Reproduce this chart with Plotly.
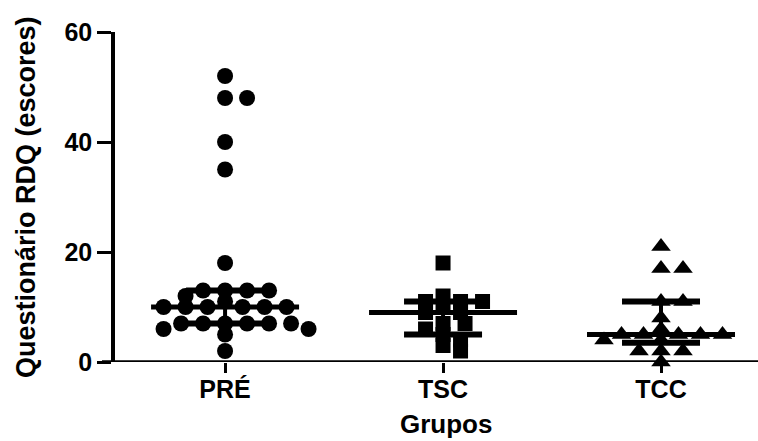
import numpy as np
import plotly.graph_objects as go

# ---- data ----
categories = ["PRÉ", "TSC", "TCC"]
pre_values = [52, 48, 48, 40, 35, 18, 13, 13, 13, 13, 12, 11, 10, 10, 10, 10, 10, 10,
              7, 7, 7, 7, 7, 7, 6, 6, 5, 2]
tsc_values = [18, 12, 11, 11, 11, 10, 9, 9, 7, 7, 6, 5, 4, 3, 2]
tcc_values = [21, 17, 17, 11, 11, 8, 6, 5, 5, 5, 5, 5, 4, 4, 2, 2, 2, 0]
y_ticks = [0, 20, 40, 60]

groups = [pre_values, tsc_values, tcc_values]
symbols = ["circle", "square", "triangle-up"]
msizes = [16, 15, 17]

# ---- layout geometry ----
W, H = 758, 441
ML, MR, MT, MB = 115, 0, 32, 79
XR = [-0.505, 2.445]
YR = [0, 60]
pw = W - ML - MR
ph = H - MT - MB
px_x = pw / (XR[1] - XR[0])
px_y = ph / (YR[1] - YR[0])


def swarm(vals, wx, wy):
    placed = []
    offs = []
    for v in vals:
        yv = v * px_y
        cands = [0.0]
        for k in range(1, 400):
            cands += [k * 0.5, -k * 0.5]
        chosen = 0.0
        for c in cands:
            if all(((c - a) / wx) ** 2 + ((yv - b) / wy) ** 2 >= 1 for a, b in placed):
                chosen = c
                break
        placed.append((chosen, yv))
        offs.append(chosen / px_x)
    return offs


fig = go.Figure()

for i, vals in enumerate(groups):
    offs = swarm(vals, 22, 9)
    xs = [i + o for o in offs]
    fig.add_trace(go.Scatter(
        x=xs, y=vals, mode="markers",
        marker=dict(symbol=symbols[i], size=msizes[i], color="black",
                    line=dict(width=0)),
        cliponaxis=False, showlegend=False, hoverinfo="y"))

# median + interquartile range
for i, vals in enumerate(groups):
    q1, med, q3 = np.percentile(vals, [25, 50, 75], method="weibull")
    hw_med = 74 / px_x
    hw_cap = 39 / px_x
    fig.add_trace(go.Scatter(x=[i - hw_med, i + hw_med], y=[med, med], mode="lines",
                             line=dict(color="black", width=5), showlegend=False,
                             hoverinfo="skip", cliponaxis=False))
    fig.add_trace(go.Scatter(x=[i, i], y=[q1, q3], mode="lines",
                             line=dict(color="black", width=4), showlegend=False,
                             hoverinfo="skip", cliponaxis=False))
    for q in (q1, q3):
        fig.add_trace(go.Scatter(x=[i - hw_cap, i + hw_cap], y=[q, q], mode="lines",
                                 line=dict(color="black", width=6), showlegend=False,
                                 hoverinfo="skip", cliponaxis=False))

font_family = "Liberation Sans, Arial, sans-serif"

fig.update_layout(
    width=W, height=H,
    margin=dict(l=ML, r=MR, t=MT, b=MB, pad=0, autoexpand=False),
    paper_bgcolor="white", plot_bgcolor="white",
    font=dict(family=font_family, color="black"),
    xaxis=dict(
        range=XR, tickmode="array", tickvals=[0, 1, 2], ticktext=categories,
        showgrid=False, zeroline=False, showline=False, automargin=False,
        ticks="outside", ticklen=10, tickwidth=3, tickcolor="black",
        ticklabelstandoff=-5,
        tickfont=dict(size=25, family=font_family, weight="bold", color="black"),
    ),
    yaxis=dict(
        range=YR, tickmode="array", tickvals=y_ticks, automargin=False,
        showgrid=False, zeroline=False, showline=True, linecolor="black", linewidth=3.5,
        ticks="outside", ticklen=14, tickwidth=3, tickcolor="black",
        tickfont=dict(size=25, family=font_family, weight="bold", color="black"),
    ),
    shapes=[dict(type="line", xref="paper", yref="y", x0=-13 / pw, x1=1, y0=0, y1=0,
                 line=dict(color="black", width=3.5))],
    annotations=[
        dict(text="Questionário RDQ (escores)", xref="paper", yref="paper",
             x=(26 - ML) / pw, y=0.5, textangle=-90, showarrow=False,
             font=dict(size=27, family=font_family, weight="bold", color="black"),
             xanchor="center", yanchor="middle"),
        dict(text="Grupos", xref="paper", yref="paper",
             x=(446 - ML) / pw, y=(ph - (424 - MT)) / ph, showarrow=False,
             font=dict(size=26, family=font_family, weight="bold", color="black"),
             xanchor="center", yanchor="middle"),
    ],
)

fig.write_html("out.html", config={"displayModeBar": False},
               post_script="document.body.style.margin='0';document.body.style.padding='0';")
